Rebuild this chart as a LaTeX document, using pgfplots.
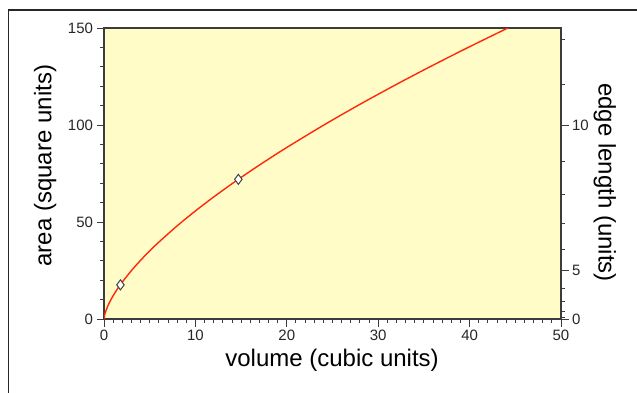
\documentclass[border=0pt]{standalone}
\usepackage{pgfplots}
\pgfplotsset{compat=1.18}
\usepackage{fontspec}
\setmainfont{Liberation Sans}
\definecolor{bgyellow}{RGB}{255,252,200}
\definecolor{curvered}{RGB}{255,40,10}
\definecolor{axgray}{RGB}{60,60,60}
\begin{document}
\begin{tikzpicture}[x=1pt,y=1pt]
\useasboundingbox (0,0) rectangle (637,392);
\draw[line width=1.6pt, color=black!85] (8.3,-5) -- (8.3,382) -- (645,382);
\pgfplotsset{
  myaxis/.style={
    scale only axis, width=457pt, height=291pt,
    at={(104pt,73pt)}, anchor=south west,
    xmin=0, xmax=50, ymin=0, ymax=150,
    axis line style={axgray, line width=1.2pt},
    tick style={axgray, line width=0.9pt},
    tick align=outside,
    major tick length=7.5pt, minor tick length=4pt,
    ticklabel style={font=\fontsize{15}{17}\selectfont, text=black!85},
    label style={font=\fontsize{24}{27}\selectfont, text=black},
    /pgf/number format/assume math mode=true,
  }
}
\begin{axis}[myaxis,
  axis background/.style={fill=bgyellow},
  xtick={0,10,20,30,40,50}, minor x tick num=9,
  ytick={0,50,100,150}, minor y tick num=4,
  xtick pos=bottom, ytick pos=left,
  xlabel={volume (cubic units)},
  ylabel={area (square units)},
  xlabel style={at={(axis description cs:0.499,-0.141)}, anchor=center},
  ylabel style={at={(axis description cs:-0.129,0.527)}, anchor=center, rotate=0},
  clip=true,
]
\addplot[curvered, line width=1.4pt, smooth] coordinates {
(0,0) (0.05,1.63) (0.1,2.58) (0.2,4.10) (0.4,6.51) (0.6,8.54) (0.8,10.34)
(1,12) (1.5,15.72) (2,19.05) (3,24.96) (4,30.24) (5,35.09) (6,39.62)
(8,48) (10,55.70) (12,62.90) (14,69.71) (16,76.20) (18,82.42) (20,88.42)
(24,99.84) (28,110.65) (32,120.95) (36,130.83) (40,140.35) (44,149.56) (45,151.8)
};
\addplot[only marks, mark=diamond*, mark size=5pt,
  mark options={fill=white, draw=black!75, line width=1pt}] coordinates {
(1.8,17.6) (14.7,72.0)
};
\end{axis}
\begin{axis}[myaxis,
  axis x line=none, axis y line*=right,
  ytick={0,25,100}, yticklabels={0,5,10},
  minor ytick={1,4,9,16,36,49,64,81,121,144},
  ylabel={edge length (units)},
  ylabel style={at={(axis description cs:1.096,0.469)}, anchor=center, rotate=180},
]
\end{axis}
\end{tikzpicture}
\end{document}
